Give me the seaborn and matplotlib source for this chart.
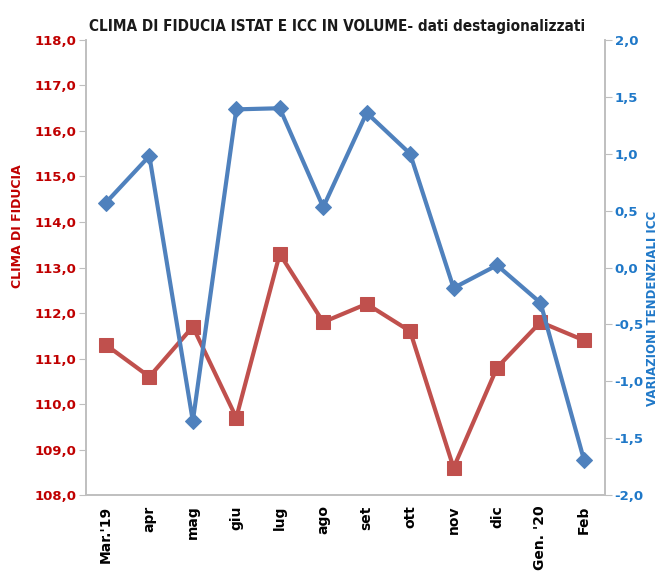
import matplotlib
matplotlib.use("Agg")
import matplotlib.pyplot as plt
import seaborn as sns
import numpy as np
import pandas as pd

months = ["Mar.'19", "apr", "mag", "giu", "lug", "ago", "set", "ott", "nov", "dic", "Gen. '20", "Feb"]
clima = [111.3, 110.6, 111.7, 109.7, 113.3, 111.8, 112.2, 111.6, 108.6, 110.8, 111.8, 111.4]
icc = [0.57, 0.98, -1.35, 1.39, 1.40, 0.53, 1.36, 1.00, -0.18, 0.02, -0.31, -1.69]
left_ticks = [108, 109, 110, 111, 112, 113, 114, 115, 116, 117, 118]
right_ticks = [-2.0, -1.5, -1.0, -0.5, 0.0, 0.5, 1.0, 1.5, 2.0]

sns.set_style("white")
plt.rcParams['font.family'] = ['DejaVu Sans']

df = pd.DataFrame({"x": np.arange(len(months)), "clima": clima, "icc": icc})

fig = plt.figure(figsize=(6.61, 5.71), dpi=100)
ax = fig.add_axes([0.130, 0.133, 0.785, 0.797])
ax2 = ax.twinx()

red_line = "#C0504D"
blue_line = "#4F81BD"
red_txt = "#C00000"
blue_txt = "#1F78C8"

sns.lineplot(data=df, x="x", y="clima", ax=ax, color=red_line, marker="s",
             markersize=10, linewidth=3.0, markeredgecolor=red_line, zorder=3)
sns.lineplot(data=df, x="x", y="icc", ax=ax2, color=blue_line, marker="D",
             markersize=8.5, linewidth=3.0, markeredgecolor=blue_line, zorder=3)

ax.set_xlim(-0.46, 11.48)
ax.set_ylim(108, 118)
ax2.set_ylim(-2, 2)

ax.set_yticks(left_ticks)
ax.set_yticklabels([f"{v:.1f}".replace(".", ",") for v in left_ticks],
                   color=red_txt, fontweight="bold", fontsize=9.5)
ax2.set_yticks(right_ticks)
ax2.set_yticklabels([f"{v:.1f}".replace(".", ",") for v in right_ticks],
                    color=blue_txt, fontweight="bold", fontsize=9.5)
ax.set_xticks(df["x"])
ax.set_xticklabels(months, rotation=90, fontweight="bold", fontsize=10, color="black")

ax.set_xlabel("")
ax.set_ylabel("CLIMA DI FIDUCIA", color=red_txt, fontweight="bold", fontsize=9)
ax.yaxis.set_label_coords(-0.12, 0.59)
ax2.set_ylabel("VARIAZIONI TENDENZIALI ICC", color=blue_txt, fontweight="bold", fontsize=8.5)
ax2.yaxis.set_label_coords(1.08, 0.41)

for a in (ax, ax2):
    for s in a.spines.values():
        s.set_color("#BFBFBF")
        s.set_linewidth(1.2)
    a.spines["top"].set_visible(False)
    a.grid(False)

ax.tick_params(axis="y", which="both", left=True, length=5, color="#BFBFBF", pad=2)
ax.tick_params(axis="x", bottom=False, pad=4)
ax2.tick_params(axis="y", right=True, length=5, color="#BFBFBF", pad=2)

fig.text(0.51, 0.953, "CLIMA DI FIDUCIA ISTAT E ICC IN VOLUME- dati destagionalizzati",
         ha="center", va="center", fontsize=11, fontweight="bold",
         fontstretch="condensed", color="#1a1a1a")

fig.savefig("out.png", dpi=100)
